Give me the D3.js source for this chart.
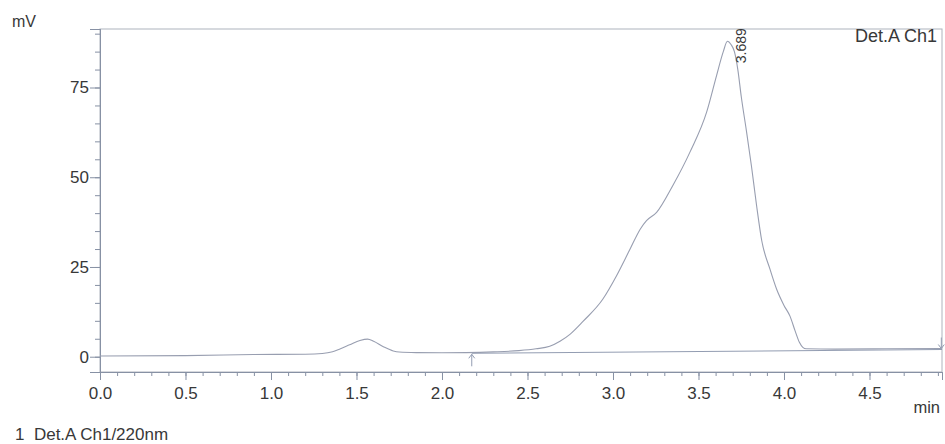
<!DOCTYPE html>
<html>
<head>
<meta charset="utf-8">
<script src="https://cdn.jsdelivr.net/npm/d3@7"></script>
<style>
  html, body { margin: 0; padding: 0; background: #fff; }
  svg { display: block; }
  text { font-family: "Liberation Sans", Arial, sans-serif; fill: #383838; }
</style>
</head>
<body>
<svg id="chart" width="945" height="444"></svg>
<script>
// Chromatogram trace, Det.A Ch1 at 220 nm: retention time (min) vs signal (mV)
const times = [0.00, 0.50, 0.90, 1.20, 1.30, 1.36, 1.40, 1.46, 1.52, 1.565, 1.60, 1.657, 1.715, 1.75, 1.85, 2.00, 2.14, 2.30, 2.45, 2.55, 2.63, 2.69, 2.75, 2.826, 2.94, 3.02, 3.10, 3.16, 3.196, 3.255, 3.35, 3.45, 3.548, 3.606, 3.645, 3.669, 3.69, 3.71, 3.73, 3.75, 3.78, 3.81, 3.84, 3.87, 3.918, 3.957, 4.00, 4.035, 4.065, 4.09, 4.11, 4.13, 4.30, 4.60, 4.92];
const signal = [0.2, 0.3, 0.6, 0.7, 0.9, 1.4, 2.1, 3.3, 4.5, 4.9, 4.3, 2.8, 1.6, 1.3, 1.15, 1.1, 1.15, 1.35, 1.7, 2.2, 2.9, 4.3, 6.3, 9.9, 16.0, 22.5, 30.0, 35.6, 37.9, 40.2, 47.7, 57.0, 68.2, 78.4, 85.0, 87.9, 87.0, 85.0, 80.0, 72.5, 63.0, 53.0, 42.0, 32.3, 24.4, 18.8, 14.3, 11.3, 7.2, 4.0, 2.6, 2.2, 2.1, 2.2, 2.3];

// Integration baseline drawn under the main peak
const baseTimes = [2.174, 4.924];
const baseValues = [0.95, 2.0];

const peakLabelTime = 3.669;
const peakLabelText = "3.689";

const xMajorTicks = [0.0, 0.5, 1.0, 1.5, 2.0, 2.5, 3.0, 3.5, 4.0, 4.5];
const xMinorTicks = d3.range(0, 50).map(i => i / 10);
const yMajorTicks = [0, 25, 50, 75];
const yMinorTicks = d3.range(0, 19).map(i => i * 5);

const svg = d3.select("#chart");
const plotLeft = 100, plotRight = 942, plotTop = 29, plotBottom = 372;

const x = d3.scaleLinear().domain([0, 4.924]).range([plotLeft, plotRight]);
const y = d3.scaleLinear().domain([-4.26, 91.3]).range([plotBottom, plotTop]);

const axisColor = "#8791a4";
const traceColor = "#989eb0";
const labelFont = "Liberation Sans, Arial, sans-serif";
const textColor = "#383838";

// Frame
svg.append("rect")
  .attr("x", plotLeft).attr("y", plotTop)
  .attr("width", plotRight - plotLeft).attr("height", plotBottom - plotTop)
  .attr("fill", "none").attr("stroke", "#aeb3bd").attr("stroke-width", 1);

// X axis: minor ticks every 0.1 min, labelled majors every 0.5 min
const xAxisMinor = d3.axisBottom(x).tickValues(xMinorTicks).tickSize(4).tickFormat("");
const gxm = svg.append("g").attr("transform", `translate(0,${plotBottom})`).call(xAxisMinor);
const xAxis = d3.axisBottom(x).tickValues(xMajorTicks).tickSize(8).tickPadding(7)
  .tickFormat(d3.format(".1f"));
const gx = svg.append("g").attr("transform", `translate(0,${plotBottom})`).call(xAxis);
[gxm, gx].forEach(g => {
  g.select(".domain").attr("stroke", axisColor);
  g.selectAll(".tick line").attr("stroke", axisColor);
});
gx.selectAll(".tick text").attr("font-size", 17).style("font-family", labelFont).attr("fill", textColor);

// Y axis: minor ticks every 5 mV, labelled majors every 25 mV
const yAxisMinor = d3.axisLeft(y).tickValues(yMinorTicks).tickSize(5).tickFormat("");
const gym = svg.append("g").attr("transform", `translate(${plotLeft},0)`).call(yAxisMinor);
const yAxis = d3.axisLeft(y).tickValues(yMajorTicks).tickSize(10).tickPadding(1);
const gy = svg.append("g").attr("transform", `translate(${plotLeft},0)`).call(yAxis);
[gym, gy].forEach(g => {
  g.select(".domain").attr("stroke", axisColor);
  g.selectAll(".tick line").attr("stroke", axisColor);
});
gy.selectAll(".tick text").attr("font-size", 17).style("font-family", labelFont).attr("fill", textColor);

// Baseline segment
svg.append("path")
  .datum(baseTimes.map((t, i) => [t, baseValues[i]]))
  .attr("d", d3.line().x(d => x(d[0])).y(d => y(d[1])))
  .attr("fill", "none").attr("stroke", "#939db2").attr("stroke-width", 1.1);

// Baseline start marker (upward arrow) and end marker (downward arrow)
const arrow = (tx, v, dir) => {
  const px = x(tx), py = y(v);
  const g = svg.append("g").attr("stroke", "#939db2").attr("fill", "none").attr("stroke-width", 1);
  if (dir === "up") {
    g.append("line").attr("x1", px).attr("x2", px).attr("y1", py + 1).attr("y2", py + 13);
    g.append("path").attr("d", `M${px - 3},${py + 5} L${px},${py + 1} L${px + 3},${py + 5}`);
  } else {
    g.append("line").attr("x1", px).attr("x2", px).attr("y1", py - 12).attr("y2", py - 1);
    g.append("path").attr("d", `M${px - 3},${py - 5} L${px},${py - 1} L${px + 3},${py - 5}`);
  }
};
arrow(baseTimes[0], baseValues[0], "up");
arrow(baseTimes[1] - 0.004, baseValues[1], "down");

// Signal trace
svg.append("path")
  .datum(times.map((t, i) => [t, signal[i]]))
  .attr("d", d3.line().x(d => x(d[0])).y(d => y(d[1])).curve(d3.curveMonotoneX))
  .attr("fill", "none").attr("stroke", traceColor).attr("stroke-width", 1.1);

// Peak retention-time label, rotated
const apexValue = signal[times.indexOf(peakLabelTime)];
svg.append("text")
  .attr("transform", `translate(${x(peakLabelTime) + 18.5},${y(apexValue) + 22}) rotate(-90)`)
  .attr("font-size", 14)
  .attr("text-anchor", "start")
  .text(peakLabelText);

// Unit and channel labels
svg.append("text").attr("x", 12).attr("y", 27).attr("font-size", 16).text("mV");
svg.append("text").attr("x", 937).attr("y", 42).attr("font-size", 18)
  .attr("text-anchor", "end").text("Det.A Ch1");
svg.append("text").attr("x", 940).attr("y", 413).attr("font-size", 16.5)
  .attr("text-anchor", "end").text("min");
svg.append("text").attr("x", 15).attr("y", 440).attr("font-size", 17)
  .attr("xml:space", "preserve").text("1  Det.A Ch1/220nm");
</script>
</body>
</html>
